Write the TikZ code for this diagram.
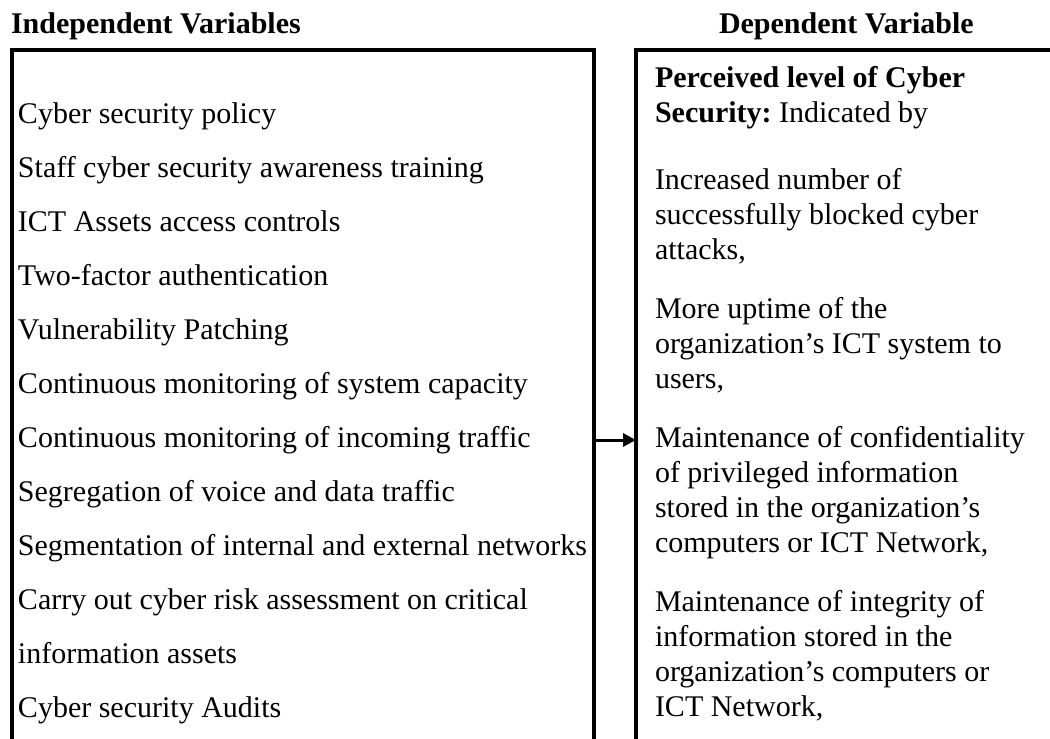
\documentclass[tikz,border=0pt]{standalone}
\usepackage{fontspec}
\setmainfont{Liberation Serif}
\usetikzlibrary{positioning, arrows.meta}
\tikzset{
	>={Triangle[length=6.5pt, width=6.5pt]}, % punta de flecha rellena
	every node/.style={inner sep=0pt, outer sep=0pt}, % sin margen en los nodos
	caja/.style={draw, rectangle, line width=2pt, minimum height=400pt}, % marcos abiertos por abajo
	titulo/.style={font=\fontsize{15}{18}\selectfont\bfseries, anchor=base west}, % encabezados
	indep/.style={font=\fontsize{15}{27}\selectfont, align=left, anchor=north west}, % variables independientes
	dep/.style={font=\fontsize{15}{17.5}\selectfont, align=left, anchor=north west} % variable dependiente
}

\begin{document}
\begin{tikzpicture}[x=0.5pt, y=-0.5pt]
	\useasboundingbox (0,0) rectangle (1050,739);
	\clip (0,0) rectangle (1050,739);
	\node[titulo] (iv) at (11,33) {Independent Variables};
	\node[titulo] (dv) at (719,33) {Dependent Variable};
	\node[caja, minimum width=291pt, anchor=north west] (ivbox) at (12,50) {};
	\node[caja, minimum width=300pt, anchor=north west] (dvbox) at (636,50) {};
	% variables independientes
	\node[indep] (l1) at (18,85.2) {\strut Cyber security policy};
	\node[indep, below right=0pt and 0pt of l1.south west] (l2) {\strut Staff cyber security awareness training};
	\node[indep, below right=0pt and 0pt of l2.south west] (l3) {\strut ICT Assets access controls};
	\node[indep, below right=0pt and 0pt of l3.south west] (l4) {\strut Two-factor authentication};
	\node[indep, below right=0pt and 0pt of l4.south west] (l5) {\strut Vulnerability Patching};
	\node[indep, below right=0pt and 0pt of l5.south west] (l6) {\strut Continuous monitoring of system capacity};
	\node[indep, below right=0pt and 0pt of l6.south west] (l7) {\strut Continuous monitoring of incoming traffic};
	\node[indep, below right=0pt and 0pt of l7.south west] (l8) {\strut Segregation of voice and data traffic};
	\node[indep, below right=0pt and 0pt of l8.south west] (l9) {\strut Segmentation of internal and external networks};
	\node[indep, below right=0pt and 0pt of l9.south west] (l10) {\strut Carry out cyber risk assessment on critical\\information assets\strut};
	\node[indep, below right=0pt and 0pt of l10.south west] (l11) {\strut Cyber security Audits};
	% variable dependiente
	\node[dep] (p0) at (655,62.5) {\strut\textbf{Perceived level of Cyber}\\\textbf{Security:}\ Indicated by\strut};
	\node[dep, below right=16pt and 0pt of p0.south west] (p1) {\strut Increased number of\\successfully blocked cyber\\attacks,\strut};
	\node[dep, below right=12pt and 0pt of p1.south west] (p2) {\strut More uptime of the\\organization's ICT system to\\users,\strut};
	\node[dep, below right=12pt and 0pt of p2.south west] (p3) {\strut Maintenance of confidentiality\\of privileged information\\stored in the organization's\\computers or ICT Network,\strut};
	\node[dep, below right=12pt and 0pt of p3.south west] (p4) {\strut Maintenance of integrity of\\information stored in the\\organization's computers or\\ICT Network,\strut};
	\coordinate (flecha) at ([yshift=3.5pt]l7.base);
	\draw[->, line width=1.5pt] (ivbox.east |- flecha) -- (dvbox.west |- flecha);
\end{tikzpicture}
\end{document}
